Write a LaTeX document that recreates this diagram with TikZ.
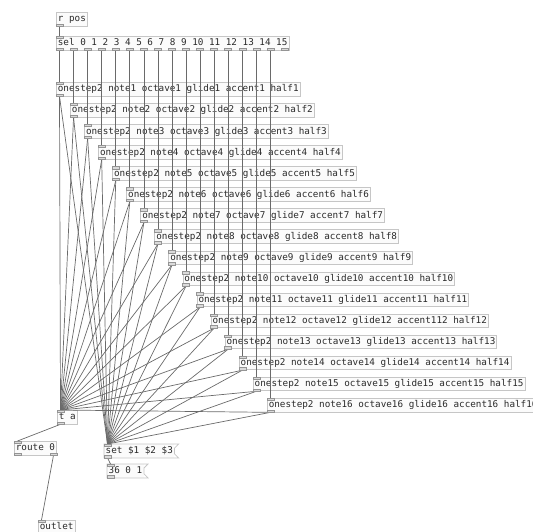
\documentclass[tikz,border=0pt]{standalone}
\usepackage{fontspec}
\setmonofont{DejaVu Sans Mono}
\usepackage{xcolor}
\definecolor{boxLine}{HTML}{C6C6C6}
\definecolor{boxFill}{HTML}{FBFBFB}
\definecolor{wireGray}{HTML}{6A6A6A}
\definecolor{nubGray}{HTML}{949494}
\definecolor{darkText}{HTML}{2A2A2A}
\usetikzlibrary{
    positioning,
    calc
}
\tikzset{
    % Base style for all pd boxes
    pd base/.style={
        font=\ttfamily\fontsize{9.3}{10}\selectfont,
        text=darkText,
        anchor=north west,
        inner xsep=1.5pt,
        inner ysep=0pt,
        text height=7.5pt,
        text depth=2pt,
        minimum height=13.5pt,
    },
    % Object boxes - plain rectangle
    pdobj/.style={
        pd base,
        draw=boxLine,
        fill=boxFill,
        line width=0.8pt,
    },
    % Message boxes - outline drawn with \msgoutline
    pdmsg/.style={
        pd base,
        fill=boxFill,
    },
    % Connections
    wire/.style={
        draw=wireGray,
        line width=0.7pt,
    },
    % Inlets and outlets
    nub/.style={
        draw=nubGray,
        fill=nubGray!35,
        line width=0.5pt,
    },
}
% flag outline of a message box
\newcommand{\msgoutline}[1]{%
    \draw[draw=boxLine, line width=0.8pt] (#1.north west) -- ($(#1.north east)+(4,0)$)
        -- ($(#1.north east)+(0,4)$) -- ($(#1.south east)+(0,-4)$)
        -- ($(#1.south east)+(4,0)$) -- (#1.south west) -- cycle;}
% inlet / outlet at a given shift from the left edge
\newcommand{\pdin}[2][0]{\draw[nub] ([xshift=#1pt]#2.north west) rectangle ++(7,2.5);}
\newcommand{\pdout}[2][0]{\draw[nub] ([xshift=#1pt]#2.south west) rectangle ++(7,-2.5);}

\begin{document}
\begin{tikzpicture}[x=1pt, y=-1pt]
    \useasboundingbox (0,0) rectangle (533,531);
    \clip (0,0) rectangle (533,531);

    \node[pdobj] (rpos) at (56,12) {r pos};
    \node[pdobj] (sel) at (56,36) {sel 0 1 2 3 4 5 6 7 8 9 10 11 12 13 14 15};

    % one onestep2 per step
    \foreach \j in {1,...,16}{
        \ifnum\j=12 \def\acc{112}\else\def\acc{\j}\fi
        \node[pdobj] (step\j) at ({56+14.06*(\j-1)}, {82+21.07*(\j-1)})
            {onestep2 note\j\ octave\j\ glide\j\ accent\acc\ half\j};
    }

    \node[pdobj] (ta) at (57,410) {t a};
    \node[pdobj] (route) at (14,441) {route 0};
    \node[pdmsg] (setmsg) at (104,444) {set \$1 \$2 \$3};
    \node[pdmsg] (vals) at (107,464) {36 0 1};
    \node[pdobj] (out) at (38,520) {outlet};
    \msgoutline{setmsg}
    \msgoutline{vals}

    % connections
    \draw[wire] ([xshift=3.5pt]rpos.south west) -- ([xshift=3.5pt]sel.north west);
    \foreach \j in {1,...,16}{
        \pgfmathsetmacro{\dx}{14.06*(\j-1)+3.5}
        \draw[wire] ([xshift=\dx pt]sel.south west) -- ([xshift=3.5pt]step\j.north west);
        \draw[wire] ([xshift=3.5pt]step\j.south west) -- ([xshift=3.5pt]ta.north west);
        \draw[wire] ([xshift=3.5pt]step\j.south west) -- ([xshift=3.5pt]setmsg.north west);
    }
    \draw[wire] ([xshift=3.5pt]ta.south west) -- ([xshift=3.5pt]route.north west);
    \draw[wire] ([xshift=-3.5pt]route.south east) -- ([xshift=3.5pt]out.north west);
    \draw[wire] ([xshift=3.5pt]setmsg.south west) -- ([xshift=3.5pt]vals.north west);

    % inlets and outlets
    \pdout{rpos}
    \pdin{sel}
    \foreach \i in {0,...,16}{
        \pgfmathsetmacro{\dx}{14.06*\i}
        \pdout[\dx]{sel}
    }
    \foreach \j in {1,...,16}{
        \pdin{step\j}
        \pdout{step\j}
    }
    \pdin{ta}
    \pdout{ta}
    \pdin{route}
    \pdout{route}
    \draw[nub] ([xshift=-7pt]route.south east) rectangle ++(7,-2.5);
    \pdin{setmsg}
    \pdout{setmsg}
    \pdin{vals}
    \pdout{vals}
    \pdin{out}
\end{tikzpicture}
\end{document}
